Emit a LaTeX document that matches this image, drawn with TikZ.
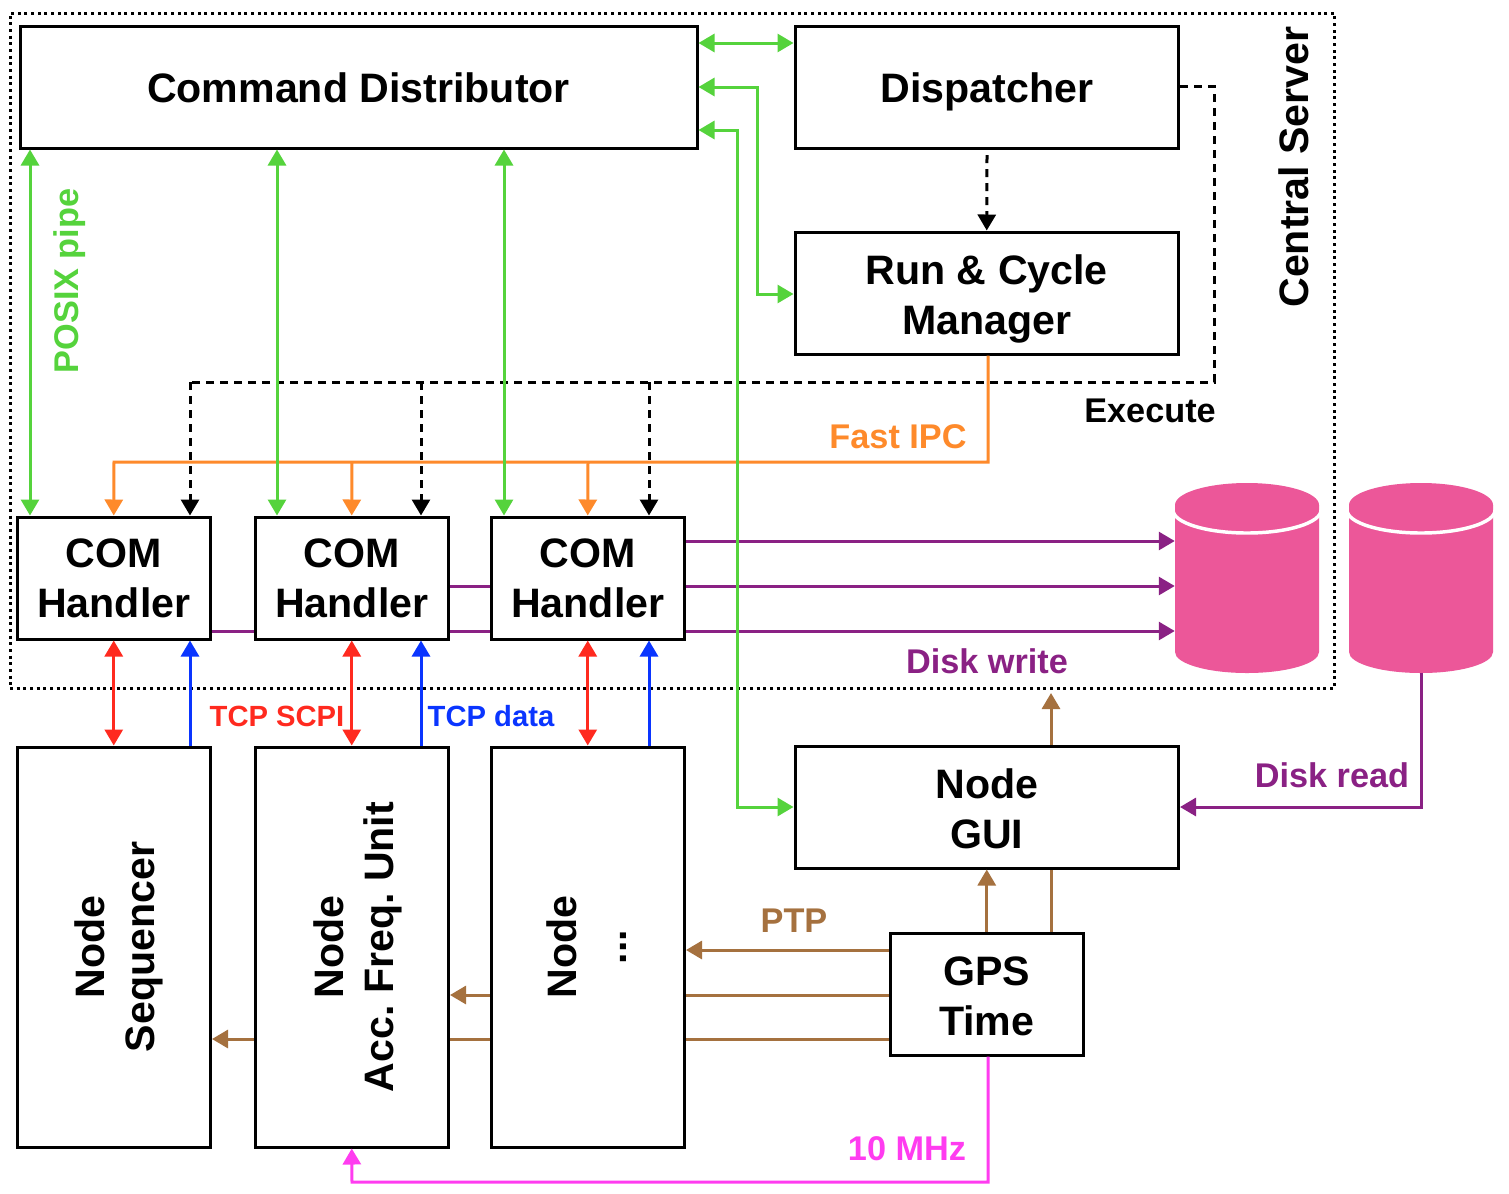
\documentclass[tikz,border=0pt]{standalone}
\usepackage{fontspec}
\setmainfont{Liberation Sans}
\usetikzlibrary{arrows.meta,backgrounds}
\definecolor{cgreen}{HTML}{55D33C}
\definecolor{corange}{HTML}{FE8A2B}
\definecolor{cred}{HTML}{FF2A1F}
\definecolor{cblue}{HTML}{0A35FF}
\definecolor{cpurple}{HTML}{8A2184}
\definecolor{cbrown}{HTML}{A5713F}
\definecolor{cmagenta}{HTML}{FF3CF0}
\definecolor{cpink}{HTML}{EC5799}
\newcommand{\bigfont}{\frenchspacing\fontsize{30.85}{37.5}\selectfont\bfseries}
\newcommand{\midfont}{\fontsize{25.7}{30}\selectfont\bfseries}
\newcommand{\smallfont}{\fontsize{21.9}{26}\selectfont\bfseries}
\newcommand{\lift}[1]{\rule{0pt}{#1}}
\def\pxu{0.75pt}
\tikzset{
 box/.style={draw=black,fill=white,line width=2.25pt,inner sep=0pt,align=center,font=\bigfont,text depth=0pt},
 wh/.style n args={2}{minimum width=#1*\pxu,minimum height=#2*\pxu},
 conn/.style={line width=2.25pt,-{Triangle[length=12pt,width=13.5pt]}},
 both/.style={line width=2.25pt,{Triangle[length=12pt,width=13.5pt]}-{Triangle[length=12pt,width=13.5pt]}},
 dashline/.style={line width=2.25pt,dash pattern=on 6pt off 4.5pt},
 dotframe/.style={draw=black,line width=2.25pt,dash pattern=on 2.25pt off 2.75pt,inner sep=0pt},
 lab/.style={inner sep=0pt,font=\midfont},
 slab/.style={inner sep=0pt,font=\smallfont},
 rot/.style={inner sep=0pt,rotate=90,align=center,font=\bigfont},
 diskbox/.style={inner sep=0pt,draw=none},
}
\begin{document}
\begin{tikzpicture}[x=0.75pt,y=-0.75pt]
\useasboundingbox (0,0) rectangle (1509,1193);
% boxes
\node[dotframe,wh={1324.5}{675}] (server) at (672.25,350.5) {};
\node[box,wh={677}{122}] (cmd) at (358.5,87) {\lift{23pt}Command Distributor};
\node[box,wh={383.5}{122}] (disp) at (986.75,87) {\lift{23pt}Dispatcher};
\node[box,wh={383.5}{122}] (run) at (986.75,293) {\lift{24.5pt}Run \& Cycle\\Manager};
\node[box,wh={193.5}{122}] (com1) at (113.75,578) {COM\\Handler};
\node[box,wh={193.5}{122}] (com2) at (351.75,578) {COM\\Handler};
\node[box,wh={193.5}{122}] (com3) at (587.75,578) {COM\\Handler};
\node[box,wh={193.5}{400}] (n1) at (113.75,947) {};
\node[box,wh={193.5}{400}] (n2) at (351.75,947) {};
\node[box,wh={193.5}{400}] (n3) at (587.75,947) {};
\node[rot] (t1) at (119,947) {Node\\Sequencer};
\node[rot] (t2) at (357.5,947) {Node\\Acc. Freq. Unit};
\node[rot] (t3) at (586.5,947) {Node\\...};
\node[box,wh={383.5}{122}] (gui) at (986.75,807) {\lift{24pt}Node\\GUI};
\node[box,wh={193.5}{122}] (gps) at (986.75,994) {\lift{24.5pt}GPS\\Time};
% disks
\node[diskbox,wh={144}{190}] (d1) at (1247,578) {};
\node[diskbox,wh={144}{190}] (d2) at (1421,578) {};
\begin{pgfonlayer}{background}
\fill[white] (0,0) rectangle (1509,1193);
\foreach \c in {1247,1421}{
 \fill[cpink] (\c-72,505) -- (\c-72,652) arc[start angle=180,end angle=360,x radius=72,y radius=-21] -- (\c+72,505) -- cycle;
 \draw[white,line width=2.6pt] (\c-74,510) arc[start angle=180,end angle=360,x radius=74,y radius=-23];
 \fill[cpink] (\c,505) ellipse[x radius=72,y radius=22];
}
\coordinate (p1) at (211,631);
\coordinate (p2) at (449,586);
\coordinate (p3) at (685,541);
\draw[cpurple,conn] (com1.east |- p1) -- (d1.west |- p1);
\draw[cpurple,conn] (com2.east |- p2) -- (d1.west |- p2);
\draw[cpurple,conn] (com3.east |- p3) -- (d1.west |- p3);
\coordinate (b1) at (0,1039);
\coordinate (b2) at (0,995);
\draw[cbrown,conn] (gps.west |- b1) -- (n1.east |- b1);
\draw[cbrown,conn] (gps.west |- b2) -- (n2.east |- b2);
\coordinate (bup) at (1051,693);
\draw[cbrown,conn] (gps.north -| bup) -- (bup);
\end{pgfonlayer}
% dashed
\coordinate (dturn) at (1214,86);
\coordinate (dlow) at (1214,382);
\coordinate (dleft) at (190,382);
\draw[dashline] (disp.east |- dturn) -- (dturn) -- (dlow) -- (dleft);
\draw[conn,dashline] (dleft) -- (dleft |- com1.north);
\coordinate (d2a) at (421,382);
\coordinate (d3a) at (649,382);
\draw[conn,dashline] (d2a) -- (d2a |- com2.north);
\draw[conn,dashline] (d3a) -- (d3a |- com3.north);
\coordinate (dd) at (987,155);
\draw[conn,dashline] (dd) -- (run.north);
% orange
\coordinate (ob) at (988,462);
\coordinate (ol) at (114,462);
\draw[corange,conn] (run.south -| ob) -- (ob) -- (ol) -- (com1.north);
\coordinate (o2) at (352,462);
\coordinate (o3) at (588,462);
\draw[corange,conn] (o2) -- (com2.north);
\draw[corange,conn] (o3) -- (com3.north);
% brown
\coordinate (b3) at (0,950);
\draw[cbrown,conn] (gps.west |- b3) -- (n3.east |- b3);
\draw[cbrown,conn] (gps.north) -- (gui.south);
% disk read
\coordinate (rd) at (1421,807);
\draw[cpurple,conn] (d2.south) -- (rd) -- (gui.east |- rd);
% magenta
\coordinate (m1) at (988,1182);
\coordinate (m2) at (352,1182);
\draw[cmagenta,conn] (gps.south -| m1) -- (m1) -- (m2) -- (n2.south);
% red blue
\draw[cred,both] (com1.south) -- (n1.north);
\draw[cred,both] (com2.south) -- (n2.north);
\draw[cred,both] (com3.south) -- (n3.north);
\coordinate (bl1) at (190,700);
\coordinate (bl2) at (421,700);
\coordinate (bl3) at (649,700);
\draw[cblue,conn] (n1.north -| bl1) -- (com1.south -| bl1);
\draw[cblue,conn] (n2.north -| bl2) -- (com2.south -| bl2);
\draw[cblue,conn] (n3.north -| bl3) -- (com3.south -| bl3);
% green
\coordinate (g1) at (30,300);
\coordinate (g2) at (277,300);
\coordinate (g3) at (504,300);
\draw[cgreen,both] (cmd.south -| g1) -- (com1.north -| g1);
\draw[cgreen,both] (cmd.south -| g2) -- (com2.north -| g2);
\draw[cgreen,both] (cmd.south -| g3) -- (com3.north -| g3);
\coordinate (g4) at (0,43);
\draw[cgreen,both] (cmd.east |- g4) -- (disp.west |- g4);
\coordinate (g5a) at (757,87);
\coordinate (g5b) at (757,294);
\draw[cgreen,both] (cmd.east |- g5a) -- (g5a) -- (g5b) -- (run.west |- g5b);
\coordinate (g6a) at (737,130);
\coordinate (g6b) at (737,807);
\draw[cgreen,both] (cmd.east |- g6a) -- (g6a) -- (g6b) -- (gui.west |- g6b);
% labels
\node[inner sep=0pt,rotate=90,font=\bigfont] (lserver) at (1294,167) {Central Server};
\node[lab,rotate=90,text=cgreen] (lposix) at (70,281) {POSIX pipe};
\node[lab] (lexec) at (1150,411) {Execute};
\node[lab,text=corange] (lipc) at (898,437) {Fast IPC};
\node[lab,text=cpurple] (lwrite) at (987,661) {Disk write};
\node[lab,text=cpurple] (lread) at (1332,775) {Disk read};
\node[slab,text=cred] (lscpi) at (277,716) {TCP SCPI};
\node[slab,text=cblue] (ldata) at (491,716) {TCP data};
\node[lab,text=cbrown] (lptp) at (794,921) {PTP};
\node[lab,text=cmagenta] (lmhz) at (907,1149) {10 MHz};
\end{tikzpicture}
\end{document}
